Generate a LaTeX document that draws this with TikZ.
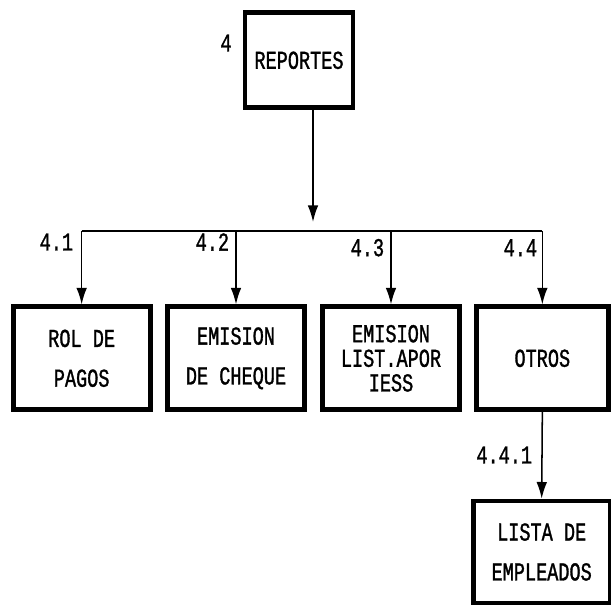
\documentclass[tikz,border=0pt]{standalone}
\usepackage{fontspec}
\usepackage{tikz}
\usetikzlibrary{arrows.meta, positioning}
\newfontfamily\plotter[FakeStretch=0.72, FakeBold=1.2]{Liberation Mono}
\newcommand{\plotfont}{\plotter\fontsize{22pt}{26pt}\selectfont}
\newcommand{\tightfont}{\plotter\fontsize{22pt}{21pt}\selectfont}

\begin{document}
\begin{tikzpicture}[font=\plotfont, >={Latex[length=0.5cm,width=0.32cm]},
  modulebox/.style={draw, rectangle, line width=4pt, align=center, inner sep=0pt,
    minimum width=4.11cm, minimum height=3.09cm},
  link/.style={line width=1.3pt},
  numlabel/.style={anchor=east, inner sep=0pt}]
  \useasboundingbox (0,0) rectangle (18.33,18.24);

  % Define positions
  \node (rep) [modulebox, minimum width=3.24cm, minimum height=2.85cm] at (8.97,16.43) {REPORTES};
  \node (rol) [modulebox] at (2.45,7.49) {ROL DE\\[8pt]PAGOS};
  \node (cheque) [modulebox] at (7.08,7.49) {EMISION\\[8pt]DE CHEQUE};
  \node (iess) [modulebox, font=\tightfont] at (11.73,7.49) {EMISION\\LIST.APOR\\IESS};
  \node (otros) [modulebox, minimum width=3.96cm] at (16.27,7.49) {OTROS};
  \node (lista) [modulebox, minimum height=3.06cm] at (16.25,1.68) {LISTA DE\\[8pt]EMPLEADOS};

  \coordinate (hub) at (9.39,11.58);
  \coordinate (bar) at (9.39,11.31);

  % Arrows
  \draw[->, link] ([xshift=0.42cm]rep.south) -- (hub);
  \draw[link] (rol.north |- bar) -- (otros.north |- bar);
  \draw[->, link] (rol.north |- bar) -- (rol.north);
  \draw[->, link] (cheque.north |- bar) -- (cheque.north);
  \draw[->, link] (iess.north |- bar) -- (iess.north);
  \draw[->, link] (otros.north |- bar) -- (otros.north);
  \draw[->, link] (otros.south) -- (lista.north);

  % Numbers
  \node (n4) at (6.78,16.95) {4};
  \path (rol.north |- bar) ++(-0.25,-0.33) node[numlabel] (n41) {4.1};
  \path (cheque.north |- bar) ++(-0.2,-0.33) node[numlabel] (n42) {4.2};
  \path (iess.north |- bar) ++(-0.2,-0.5) node[numlabel] (n43) {4.3};
  \path (otros.north |- bar) ++(-0.15,-0.5) node[numlabel] (n44) {4.4};
  \path (otros.south |- 0,4.59) ++(-0.3,0) node[numlabel] (n441) {4.4.1};
\end{tikzpicture}
\end{document}
